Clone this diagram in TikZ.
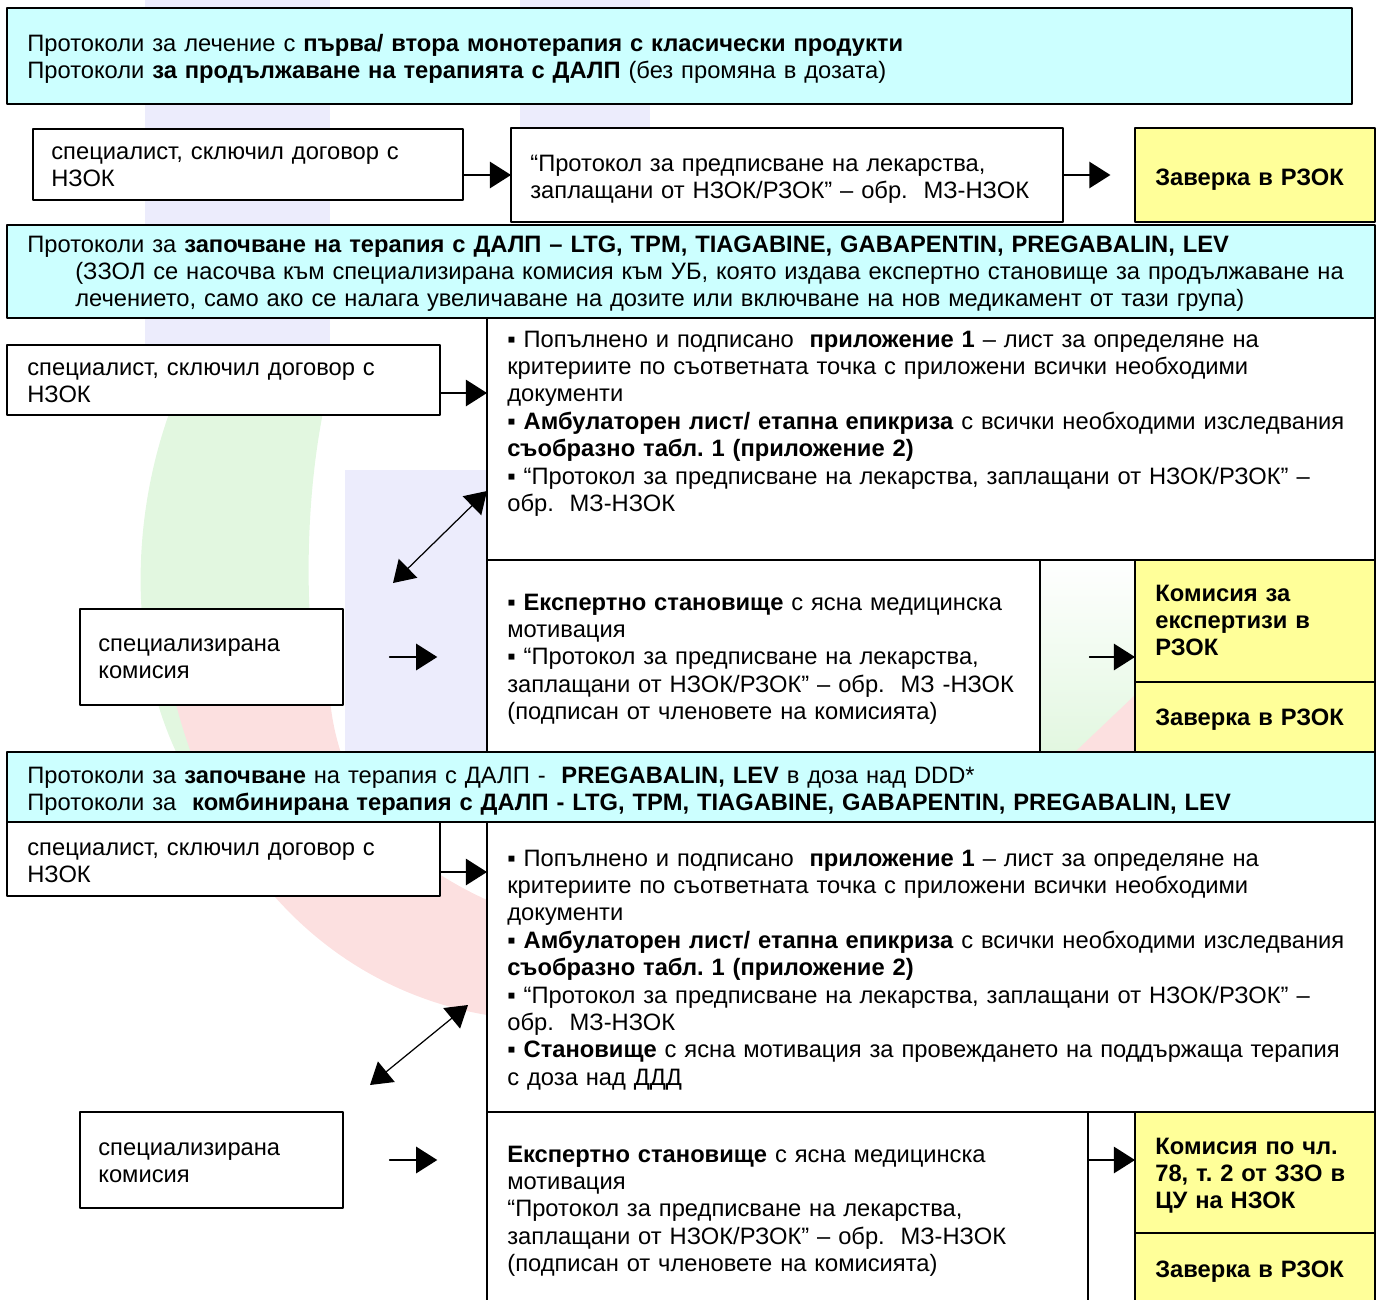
\documentclass[tikz,border=0pt]{standalone}
\usepackage{fontspec}
\setmainfont{Liberation Sans}
\usepackage{tikz}
\usetikzlibrary{arrows.meta}
\frenchspacing

\definecolor{hdrcyan}{HTML}{CCFFFF}
\definecolor{zavyellow}{HTML}{FFFF99}
\definecolor{wmblue}{HTML}{ECECFC}
\definecolor{wmgreen}{HTML}{E2F7E0}
\definecolor{wmred}{HTML}{FCE0E0}

\newcommand{\bodyfont}{\fontsize{13.5pt}{15.6pt}\selectfont}

\tikzset{
  box/.style={draw=black,line width=1pt,fill=white,anchor=north west,inner sep=0pt,outer sep=0pt},
  hdrbox/.style={box,fill=hdrcyan},
  zavbox/.style={box,fill=zavyellow},
  txt/.style={anchor=base west,inner sep=0pt,align=left,text width=27.5cm,font=\bodyfont},
  flow/.style={->,line width=0.9pt},
  dflow/.style={<->,line width=0.7pt},
}

\begin{document}
\begin{tikzpicture}[line cap=round,line join=round,>={Triangle[length=12pt,width=15pt]},x=0.02cm,y=-0.02cm]
\useasboundingbox (0,0) rectangle (1379,1299);
\clip (0,0) rectangle (1379,1299);
% watermark
\fill[wmblue] (145,0) rectangle (330,345);
\fill[wmblue] (520,0) rectangle (650,130);
\fill[wmblue] (345,470) rectangle (487,752);
\fill[wmgreen] (200,345) .. controls (130,470) and (120,640) .. (180,760) -- (330,760) .. controls (300,640) and (300,470) .. (340,345) -- cycle;
\fill[wmred] (175,700) .. controls (220,880) and (340,990) .. (487,1015) -- (487,900) .. controls (400,860) and (340,800) .. (330,700) -- cycle;
\shade[top color=white,bottom color=wmgreen] (1040,560) rectangle (1135,752);
\fill[wmred] (1075,752) -- (1135,695) -- (1135,752) -- cycle;
% boxes
\node[hdrbox,minimum width=26.90cm,minimum height=1.92cm] (hdrA) at (7,8) {};
\node[box,minimum width=8.60cm,minimum height=1.42cm] (spec1) at (33,129) {};
\node[box,minimum width=11.04cm,minimum height=1.88cm] (proto1) at (511,128) {};
\node[zavbox,minimum width=4.80cm,minimum height=1.88cm] (zav1) at (1135,128) {};
\node[hdrbox,minimum width=27.36cm,minimum height=1.86cm] (hdrB) at (7,225) {};
\node[box,minimum width=8.66cm,minimum height=1.40cm] (spec2) at (7,345) {};
\node[box,minimum width=17.76cm,minimum height=4.84cm] (docs2) at (487,318) {};
\node[box,minimum width=5.26cm,minimum height=1.92cm] (kom2) at (80,609) {};
\node[box,minimum width=11.06cm,minimum height=3.84cm] (exp2) at (487,560) {};
\node[zavbox,minimum width=4.80cm,minimum height=2.44cm] (komE2) at (1135,560) {};
\node[zavbox,minimum width=4.80cm,minimum height=1.40cm] (zav2) at (1135,682) {};
\node[hdrbox,minimum width=27.36cm,minimum height=1.40cm] (hdrC) at (7,752) {};
\node[box,minimum width=8.66cm,minimum height=1.48cm] (spec3) at (7,822) {};
\node[box,minimum width=17.76cm,minimum height=5.80cm] (docs3) at (487,822) {};
\node[box,minimum width=5.26cm,minimum height=1.92cm] (kom3) at (80,1112) {};
\node[box,minimum width=12.02cm,minimum height=4.00cm] (exp3) at (487,1112) {};
\node[zavbox,minimum width=4.80cm,minimum height=2.42cm] (komC3) at (1135,1112) {};
\node[zavbox,minimum width=4.80cm,minimum height=1.60cm] (zav3) at (1135,1233) {};
% texts
\node[txt] (hdrA-t) at (27,51) {Протоколи за лечение с \textbf{първа/ втора монотерапия с класически продукти}\\Протоколи \textbf{за продължаване на терапията с ДАЛП} (без промяна в дозата)};
\node[txt] (spec1-t) at (51,159) {специалист, сключил договор с\\НЗОК};
\node[txt] (proto1-t) at (530,171) {“Протокол за предписване на лекарства,\\заплащани от НЗОК/РЗОК” – обр.\ \ МЗ-НЗОК};
\node[txt] (zav1-t) at (1155,185) {\textbf{Заверка в РЗОК}};
\node[txt] (hdrB-t) at (27,252) {Протоколи за \textbf{започване на терапия с ДАЛП – LTG, TPM, TIAGABINE, GABAPENTIN, PREGABALIN, LEV}\\\hspace*{0.96cm}(ЗЗОЛ се насочва към специализирана комисия към УБ, която издава експертно становище за продължаване на\\\hspace*{0.96cm}лечението, само ако се налага увеличаване на дозите или включване на нов медикамент от тази група)};
\node[txt] (spec2-t) at (27,375) {специалист, сключил договор с\\НЗОК};
\node[txt] (docs2-t) at (507,347) {▪ Попълнено и подписано\ \ \textbf{приложение 1} – лист за определяне на\\критериите по съответната точка с приложени всички необходими\\документи\\\textbf{▪ Амбулаторен лист/ етапна епикриза} с всички необходими изследвания\\\textbf{съобразно табл. 1 (приложение 2)}\\▪ “Протокол за предписване на лекарства, заплащани от НЗОК/РЗОК” –\\обр.\ \ МЗ-НЗОК};
\node[txt] (kom2-t) at (98,651) {специализирана\\комисия};
\node[txt] (exp2-t) at (507,610) {\textbf{▪ Експертно становище} с ясна медицинска\\мотивация\\▪ “Протокол за предписване на лекарства,\\заплащани от НЗОК/РЗОК” – обр.\ \ МЗ -НЗОК\\(подписан от членовете на комисията)};
\node[txt] (komE2-t) at (1155,601) {\textbf{Комисия за}\\\textbf{експертизи в}\\\textbf{РЗОК}};
\node[txt] (zav2-t) at (1155,725) {\textbf{Заверка в РЗОК}};
\node[txt] (hdrC-t) at (27,783) {Протоколи за \textbf{започване} на терапия с ДАЛП -\ \ \textbf{PREGABALIN, LEV} в доза над DDD*\\Протоколи за\ \ \textbf{комбинирана терапия с ДАЛП - LTG, TPM, TIAGABINE, GABAPENTIN, PREGABALIN, LEV}};
\node[txt] (spec3-t) at (27,855) {специалист, сключил договор с\\НЗОК};
\node[txt] (docs3-t) at (507,866) {▪ Попълнено и подписано\ \ \textbf{приложение 1} – лист за определяне на\\критериите по съответната точка с приложени всички необходими\\документи\\\textbf{▪ Амбулаторен лист/ етапна епикриза} с всички необходими изследвания\\\textbf{съобразно табл. 1 (приложение 2)}\\▪ “Протокол за предписване на лекарства, заплащани от НЗОК/РЗОК” –\\обр.\ \ МЗ-НЗОК\\\textbf{▪ Становище} с ясна мотивация за провеждането на поддържаща терапия\\с доза над ДДД};
\node[txt] (kom3-t) at (98,1155) {специализирана\\комисия};
\node[txt] (exp3-t) at (507,1162) {\textbf{Експертно становище} с ясна медицинска\\мотивация\\“Протокол за предписване на лекарства,\\заплащани от НЗОК/РЗОК” – обр.\ \ МЗ-НЗОК\\(подписан от членовете на комисията)};
\node[txt] (komC3-t) at (1155,1154) {\textbf{Комисия по чл.}\\\textbf{78, т. 2 от ЗЗО в}\\\textbf{ЦУ на НЗОК}};
\node[txt] (zav3-t) at (1155,1277) {\textbf{Заверка в РЗОК}};
% arrows
\coordinate (a2) at (0,393);
\coordinate (d2a) at (0,491);
\coordinate (d2b) at (393,583);
\coordinate (a3) at (0,872);
\coordinate (d3a) at (468,1005);
\coordinate (d3b) at (370,1085);
\draw[flow] (spec1.east |- proto1.west) -- (proto1.west);
\draw[flow,shorten >=14pt] (proto1.east) -- (zav1.west);
\draw[flow] (spec2.east |- a2) -- (docs2.west |- a2);
\draw[dflow] (docs2.west |- d2a) -- (d2b);
\draw[flow,shorten <=26.6pt,shorten >=28.3pt] (kom2.east) -- (exp2.west |- kom2.east);
\draw[flow,shorten <=28.3pt] (exp2.east |- kom2.east) -- (komE2.west |- kom2.east);
\draw[flow] (spec3.east |- a3) -- (docs3.west |- a3);
\draw[dflow] (d3a) -- (d3b);
\draw[flow,shorten <=26.6pt,shorten >=28.3pt] (kom3.east) -- (exp3.west |- kom3.east);
\draw[flow] (exp3.east |- kom3.east) -- (komC3.west |- kom3.east);
\end{tikzpicture}
\end{document}
